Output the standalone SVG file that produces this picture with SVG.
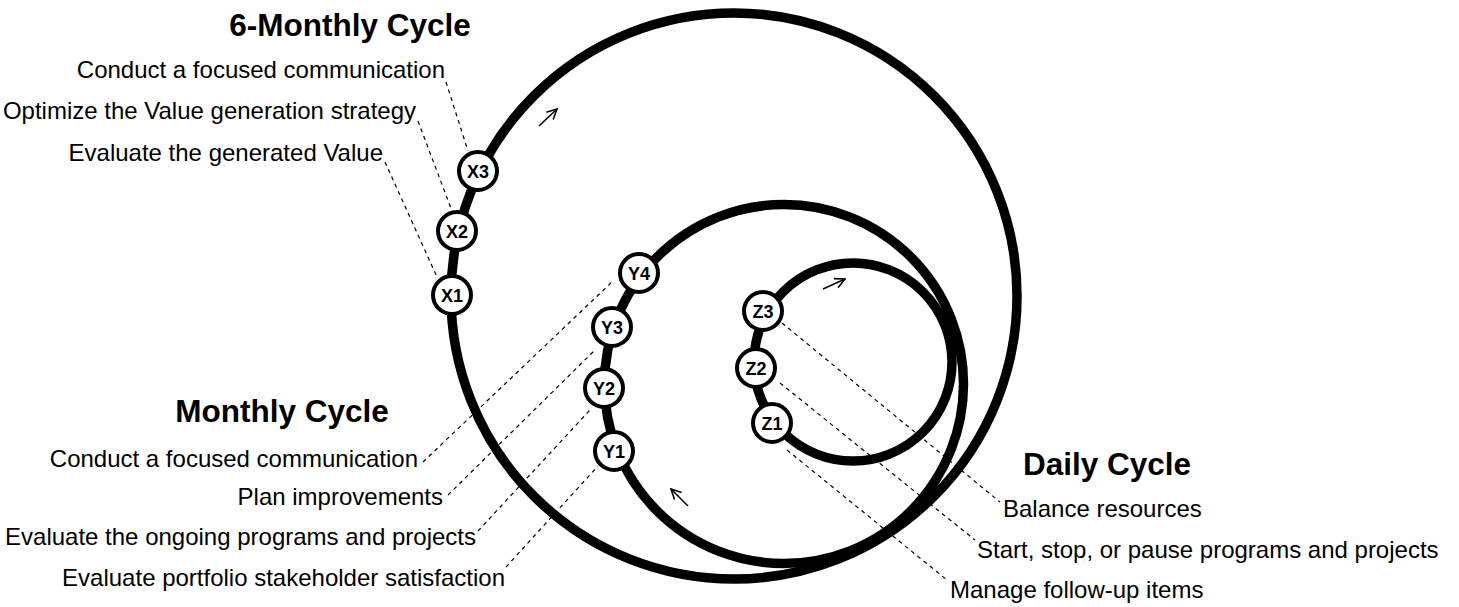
<svg xmlns="http://www.w3.org/2000/svg" width="1459" height="607" viewBox="0 0 1459 607">
<defs>
<style>
.ring{fill:none;stroke:#000;stroke-width:9.5}
.node circle{fill:#fff;stroke:#000;stroke-width:4}
.node text{font-family:"Liberation Sans",Arial,sans-serif;font-weight:bold;font-size:18px;text-anchor:middle;fill:#000}
.lbl{font-family:"Liberation Sans",Arial,sans-serif;font-size:24px;fill:#000}
.ttl{font-family:"Liberation Sans",Arial,sans-serif;font-size:31.5px;font-weight:bold;fill:#000;text-anchor:middle}
.end{text-anchor:end}
.dash{stroke:#000;stroke-width:1.2;stroke-dasharray:4 4;fill:none}
.arr{stroke:#000;stroke-width:1.6;fill:none;marker-end:url(#ah)}
</style>
<marker id="ah" viewBox="0 0 12 12" refX="11" refY="6" markerWidth="12" markerHeight="12" markerUnits="userSpaceOnUse" orient="auto">
<path d="M1,1 L11,6 L1,11" fill="none" stroke="#000" stroke-width="1.6"/>
</marker>
</defs>
<rect width="1459" height="607" fill="#fff"/>
<g id="cycles">
<circle class="ring" cx="734" cy="296" r="283"/>
<circle class="ring" cx="784" cy="384" r="179.5"/>
<circle class="ring" cx="853" cy="362" r="99"/>
</g>
<g id="connectors">
<path class="dash" d="M446,82 L468,151"/>
<path class="dash" d="M418,121 L452,211"/>
<path class="dash" d="M385,162 L437,277"/>
<path class="dash" d="M423,462 L613,281"/>
<path class="dash" d="M448,495 L596,349"/>
<path class="dash" d="M478,531 L590,410"/>
<path class="dash" d="M506,567 L598,466"/>
<path class="dash" d="M782,323 L1000,502"/>
<path class="dash" d="M780,383 L975,540"/>
<path class="dash" d="M787,450 L947,580"/>
<path class="arr" d="M539,126 L557,109"/>
<path class="arr" d="M688,506 L671,489"/>
<path class="arr" d="M823,289 L845,279"/>
</g>
<g id="X1" class="node"><circle cx="452" cy="295" r="19"/><text x="452" y="301.5">X1</text></g>
<g id="X2" class="node"><circle cx="457" cy="231" r="19"/><text x="457" y="237.5">X2</text></g>
<g id="X3" class="node"><circle cx="478" cy="171" r="19"/><text x="478" y="177.5">X3</text></g>
<g id="Y1" class="node"><circle cx="614" cy="451" r="19"/><text x="614" y="457.5">Y1</text></g>
<g id="Y2" class="node"><circle cx="604" cy="388" r="19"/><text x="604" y="394.5">Y2</text></g>
<g id="Y3" class="node"><circle cx="612" cy="327" r="19"/><text x="612" y="333.5">Y3</text></g>
<g id="Y4" class="node"><circle cx="639" cy="273" r="19"/><text x="639" y="279.5">Y4</text></g>
<g id="Z1" class="node"><circle cx="772" cy="423" r="19"/><text x="772" y="429.5">Z1</text></g>
<g id="Z2" class="node"><circle cx="756" cy="368" r="19"/><text x="756" y="374.5">Z2</text></g>
<g id="Z3" class="node"><circle cx="763" cy="311" r="19"/><text x="763" y="317.5">Z3</text></g>
<g id="labels">
<text class="ttl" x="350" y="36">6-Monthly Cycle</text>
<text class="lbl end" x="445" y="78">Conduct a focused communication</text>
<text class="lbl end" x="416" y="119">Optimize the Value generation strategy</text>
<text class="lbl end" x="383" y="161">Evaluate the generated Value</text>
<text class="ttl" x="282" y="422">Monthly Cycle</text>
<text class="lbl end" x="418" y="467">Conduct a focused communication</text>
<text class="lbl end" x="443" y="505">Plan improvements</text>
<text class="lbl end" x="476" y="545">Evaluate the ongoing programs and projects</text>
<text class="lbl end" x="505" y="586">Evaluate portfolio stakeholder satisfaction</text>
<text class="ttl" x="1107" y="475">Daily Cycle</text>
<text class="lbl" x="1003" y="517">Balance resources</text>
<text class="lbl" x="977" y="558">Start, stop, or pause programs and projects</text>
<text class="lbl" x="950" y="598">Manage follow-up items</text>
</g>
</svg>
